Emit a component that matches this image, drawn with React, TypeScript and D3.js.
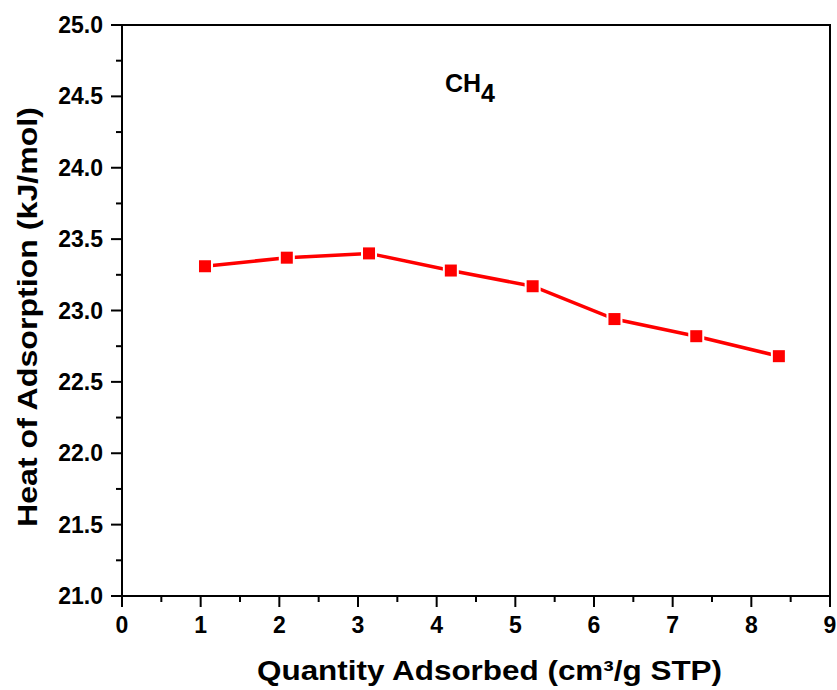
import React from "react";
import * as d3 from "d3";

const quantity = [1.055, 2.095, 3.14, 4.18, 5.22, 6.26, 7.3, 8.35];
const heat = [23.31, 23.37, 23.4, 23.28, 23.17, 22.94, 22.82, 22.68];
const xTicks = [0, 1, 2, 3, 4, 5, 6, 7, 8, 9];
const yTicks = [21.0, 21.5, 22.0, 22.5, 23.0, 23.5, 24.0, 24.5, 25.0];
const xLabel = "Quantity Adsorbed (cm³/g STP)";
const yLabel = "Heat of Adsorption (kJ/mol)";

export default function App() {
  const W = 837, H = 690;
  const left = 122, right = 830, top = 25, bottom = 596;
  const x = d3.scaleLinear().domain([0, 9]).range([left, right]);
  const y = d3.scaleLinear().domain([21, 25]).range([bottom, top]);
  const font = "Arial, 'Liberation Sans', sans-serif";
  const pts = quantity.map((q, i) => [x(q), y(heat[i])] as [number, number]);
  const line = d3.line()(pts) || "";
  const xMinor = d3.range(0.5, 9, 1);
  const yMinor = d3.range(21.25, 25, 0.5);
  return (
    <svg width={W} height={H} style={{ position: "absolute", left: 0, top: 0 }}>
      <rect x={0} y={0} width={W} height={H} fill="white" />
      {xTicks.map((t) => (
        <g key={"xt" + t}>
          <line x1={x(t)} x2={x(t)} y1={bottom} y2={bottom + 11} stroke="black" strokeWidth={2} />
          <text x={x(t)} y={633} textAnchor="middle" fontFamily={font} fontWeight="bold" fontSize={23}>{t}</text>
        </g>
      ))}
      {xMinor.map((t) => (
        <line key={"xm" + t} x1={x(t)} x2={x(t)} y1={bottom} y2={bottom + 6} stroke="black" strokeWidth={2} />
      ))}
      {yTicks.map((t) => (
        <g key={"yt" + t}>
          <line x1={left - 11} x2={left} y1={y(t)} y2={y(t)} stroke="black" strokeWidth={2} />
          <text x={103} y={y(t) + 8} textAnchor="end" fontFamily={font} fontWeight="bold" fontSize={23}>{t.toFixed(1)}</text>
        </g>
      ))}
      {yMinor.map((t) => (
        <line key={"ym" + t} x1={left - 6} x2={left} y1={y(t)} y2={y(t)} stroke="black" strokeWidth={2} />
      ))}
      <rect x={left} y={top} width={right - left} height={bottom - top} fill="none" stroke="black" strokeWidth={2} />
      <path d={line} fill="none" stroke="#ff0000" strokeWidth={3.5} />
      {pts.map(([px, py], i) => (
        <rect key={"w" + i} x={px - 8} y={py - 8} width={16} height={16} fill="white" />
      ))}
      {pts.map(([px, py], i) => (
        <rect key={"m" + i} x={px - 6} y={py - 6} width={12} height={12} fill="#ff0000" />
      ))}
      <text x={445} y={92} fontFamily={font} fontWeight="bold" fontSize={25}>
        CH<tspan dy={10}>4</tspan>
      </text>
      <text x={257} y={680} fontFamily={font} fontWeight="bold" fontSize={27} textLength={465} lengthAdjust="spacingAndGlyphs">{xLabel}</text>
      <text transform={`translate(37, 317) rotate(-90)`} textAnchor="middle" fontFamily={font} fontWeight="bold" fontSize={27} textLength={420} lengthAdjust="spacingAndGlyphs">{yLabel}</text>
    </svg>
  );
}
